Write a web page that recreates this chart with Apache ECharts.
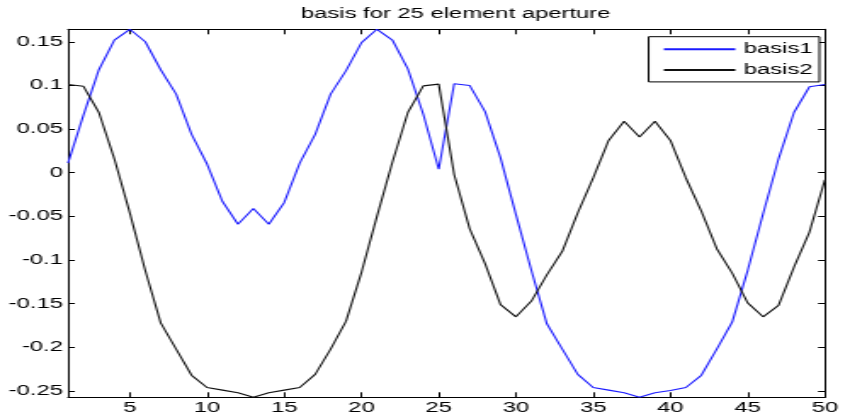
<!DOCTYPE html>
<html>
<head>
<meta charset="utf-8">
<script src="https://cdn.jsdelivr.net/npm/echarts@6/dist/echarts.min.js"></script>
<style>
  html, body { margin: 0; padding: 0; background: #fff; overflow: hidden; }
  #wrap { width: 843px; height: 419px; overflow: hidden; position: relative; }
  #chart { width: 496px; height: 419px; transform: scaleX(1.7); transform-origin: 0 0; }
</style>
</head>
<body>
<div id="wrap"><div id="chart"></div></div>
<script>
// ---- data ----
const xValues = [1,2,3,4,5,6,7,8,9,10,11,12,13,14,15,16,17,18,19,20,21,22,23,24,25,
                 26,27,28,29,30,31,32,33,34,35,36,37,38,39,40,41,42,43,44,45,46,47,48,49,50];
const basis1 = [0.011,0.066,0.118,0.152,0.1643,0.150,0.118,0.090,0.044,0.010,
                -0.033,-0.059,-0.041,-0.059,-0.034,0.011,0.044,0.090,0.117,0.149,
                0.1643,0.152,0.119,0.067,0.004,
                0.102,0.100,0.070,0.017,-0.048,-0.112,-0.173,-0.202,-0.231,-0.246,
                -0.249,-0.252,-0.2572,-0.252,-0.2495,-0.246,-0.232,-0.202,-0.171,-0.112,
                -0.047,0.016,0.069,0.0985,0.101];
const basis2 = [0.101,0.099,0.069,0.016,-0.046,-0.112,-0.172,-0.202,-0.232,-0.246,
                -0.249,-0.252,-0.2572,-0.252,-0.249,-0.246,-0.231,-0.202,-0.170,-0.114,
                -0.050,0.012,0.069,0.0995,0.1015,
                -0.002,-0.064,-0.104,-0.151,-0.165,-0.147,-0.117,-0.090,-0.046,-0.006,
                0.037,0.059,0.041,0.059,0.037,-0.006,-0.044,-0.087,-0.115,-0.149,
                -0.165,-0.152,-0.108,-0.068,-0.008];
const xTicks = [5,10,15,20,25,30,35,40,45,50];
const yTicks = [-0.25,-0.2,-0.15,-0.1,-0.05,0,0.05,0.1,0.15];
const seriesNames = ['basis1','basis2'];
const titleText = 'basis for 25 element aperture';

const FONT = '"Liberation Sans", Arial, Helvetica, sans-serif';
const pairs = ys => xValues.map((x, i) => [x, ys[i]]);

const chart = echarts.init(document.getElementById('chart'), null, { renderer: 'canvas' });

const xBase = {
  type: 'value', min: 1, max: 50, gridIndex: 0,
  axisLine: { show: true, onZero: false, lineStyle: { color: '#000', width: 1 } },
  splitLine: { show: false }
};
const yBase = {
  type: 'value', min: -0.2572, max: 0.1643, gridIndex: 0,
  axisLine: { show: true, onZero: false, lineStyle: { color: '#000', width: 1 } },
  splitLine: { show: false }
};

chart.setOption({
  animation: false,
  backgroundColor: '#fff',
  title: {
    text: titleText, left: 263, top: 2, textAlign: 'center',
    textStyle: { fontSize: 14, fontWeight: 'normal', color: '#000', fontFamily: FONT }
  },
  grid: { left: 40, right: 9, top: 29.3, bottom: 21.7, containLabel: false },
  legend: {
    data: seriesNames, orient: 'vertical', right: 14, top: 36.7,
    padding: [5.5, 4, 5, 8], itemWidth: 42, itemHeight: 14, itemGap: 6.7,
    borderColor: '#000', borderWidth: 1, backgroundColor: '#fff', borderRadius: 0,
    itemStyle: { opacity: 0 },
    textStyle: { fontSize: 14, color: '#000', fontFamily: FONT }
  },
  xAxis: [
    Object.assign({}, xBase, {
      position: 'bottom',
      axisTick: { show: true, inside: true, length: 5, customValues: xTicks, lineStyle: { color: '#000' } },
      axisLabel: { show: true, customValues: xTicks, margin: 4, color: '#000', fontSize: 14, fontFamily: FONT }
    }),
    Object.assign({}, xBase, {
      position: 'top',
      axisTick: { show: true, inside: true, length: 5, customValues: xTicks, lineStyle: { color: '#000' } },
      axisLabel: { show: false }
    })
  ],
  yAxis: [
    Object.assign({}, yBase, {
      position: 'left',
      axisTick: { show: true, inside: true, length: 4, customValues: yTicks, lineStyle: { color: '#000' } },
      axisLabel: { show: true, customValues: yTicks, margin: 3, color: '#000', fontSize: 14, fontFamily: FONT,
                   formatter: v => String(Math.round(v * 1000) / 1000) }
    }),
    Object.assign({}, yBase, {
      position: 'right',
      axisTick: { show: true, inside: true, length: 4, customValues: yTicks, lineStyle: { color: '#000' } },
      axisLabel: { show: false }
    })
  ],
  series: [
    { name: seriesNames[0], type: 'line', xAxisIndex: 0, yAxisIndex: 0, data: pairs(basis1),
      symbol: 'none', lineStyle: { color: '#1a1aff', width: 1.1 }, itemStyle: { color: '#1a1aff' } },
    { name: seriesNames[1], type: 'line', xAxisIndex: 0, yAxisIndex: 0, data: pairs(basis2),
      symbol: 'none', lineStyle: { color: '#111', width: 1.1 }, itemStyle: { color: '#111' } }
  ]
});
</script>
</body>
</html>
